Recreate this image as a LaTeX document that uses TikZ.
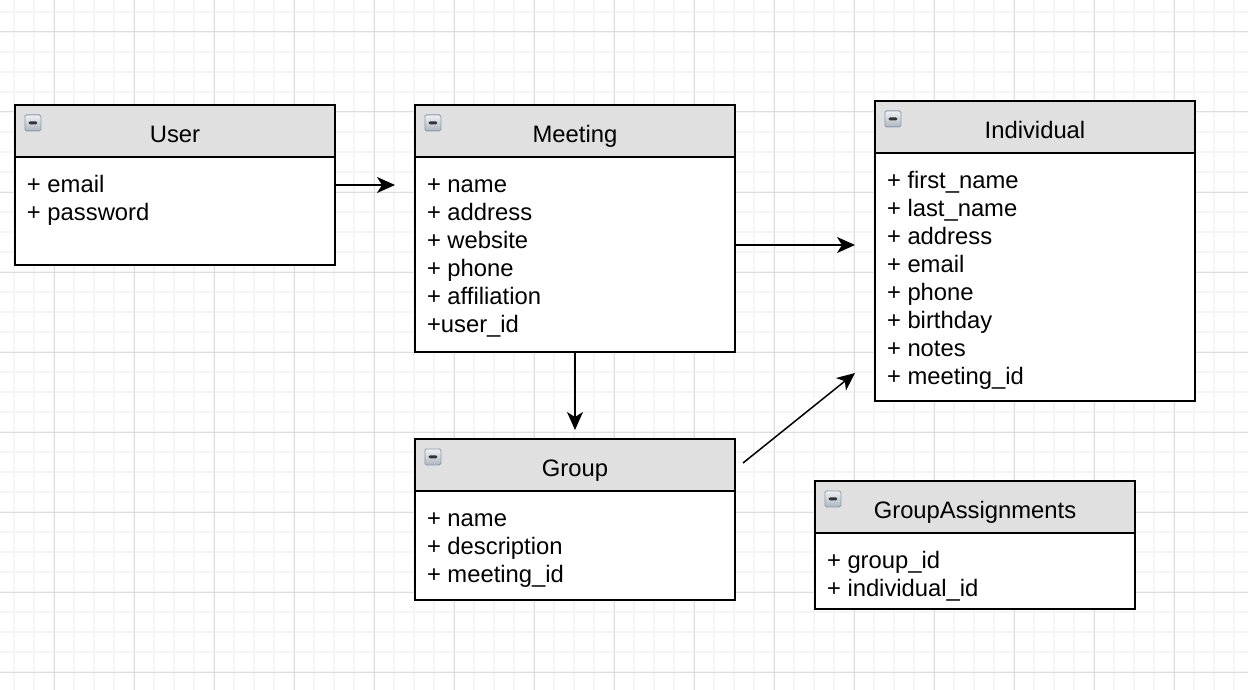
\documentclass[tikz,border=0pt]{standalone}
\usepackage{fontspec}
\setmainfont{Liberation Sans}
\usetikzlibrary{positioning,calc,arrows.meta}
\definecolor{headgray}{HTML}{E0E0E0}
\definecolor{minorgray}{HTML}{F5F5F5}
\definecolor{majorgray}{HTML}{DEDEDE}
\definecolor{iconedge}{HTML}{8C9AAA}
\definecolor{icontop}{HTML}{EEF2F6}
\definecolor{iconbottom}{HTML}{AEB6C0}
\newcommand{\fieldstrut}{\rule{0pt}{19pt}}

\begin{document}
\begin{tikzpicture}[x=1pt,y=-1pt,
  classhead/.style={draw, line width=2pt, fill=headgray, anchor=north west,
    minimum width=320pt, minimum height=52pt, inner sep=0pt, outer sep=0pt,
    text height=23pt, text depth=0pt, font=\fontsize{23.8}{28}\selectfont},
  classbody/.style={draw, line width=2pt, fill=white, anchor=north west,
    minimum width=320pt, inner sep=0pt, outer sep=0pt},
  fields/.style={anchor=north west, align=left, inner xsep=12pt, inner ysep=16pt,
    outer sep=0pt, font=\fontsize{23.8}{28}\selectfont},
  icon/.style={draw=iconedge, line width=0.8pt, anchor=north west, minimum size=16pt,
    inner sep=0pt, rounded corners=1.5pt, top color=icontop, bottom color=iconbottom,
    path picture={\fill[black!80] ($(path picture bounding box.center)+(-4.5,-1.5)$) rectangle ++(9,3);}},
  minorgrid/.style={draw=minorgray, line width=1.5pt},
  majorgrid/.style={draw=majorgray, line width=1pt},
  link/.style={-{Stealth[length=18pt,width=16pt,inset=5pt]}, line width=1.5pt}
  ]
  \useasboundingbox (0,0) rectangle (1248,690);
  \fill[white] (0,0) rectangle (1248,690);

  % background grid
  \foreach \x in {14,34,...,1248} \draw[minorgrid] (\x,0) -- (\x,690);
  \foreach \y in {12,32,...,690} \draw[minorgrid] (0,\y) -- (1248,\y);
  \foreach \x in {54,134,...,1248} \draw[majorgrid] (\x,0) -- (\x,690);
  \foreach \y in {32,112,...,690} \draw[majorgrid] (0,\y) -- (1248,\y);

  % User
  \node[classhead] (user) at (15,105) {User};
  \node[classbody, minimum height=108pt] (userbody) at (user.south west) {};
  \node[fields] (userfields) at (userbody.north west) {\fieldstrut+ email\\+ password};
  \node[icon] (usericon) at ($(user.north west)+(9.5,9.5)$) {};

  % Meeting
  \node[classhead] (meeting) at (415,105) {Meeting};
  \node[classbody, minimum height=195pt] (meetingbody) at (meeting.south west) {};
  \node[fields] (meetingfields) at (meetingbody.north west)
    {\fieldstrut+ name\\+ address\\+ website\\+ phone\\+ affiliation\\+user\_id};
  \node[icon] (meetingicon) at ($(meeting.north west)+(9.5,9.5)$) {};

  % Individual
  \node[classhead] (individual) at (875,101) {Individual};
  \node[classbody, minimum height=248pt] (individualbody) at (individual.south west) {};
  \node[fields] (individualfields) at (individualbody.north west)
    {\fieldstrut+ first\_name\\+ last\_name\\+ address\\+ email\\+ phone\\+ birthday\\+ notes\\+ meeting\_id};
  \node[icon] (individualicon) at ($(individual.north west)+(9.5,9.5)$) {};

  % Group
  \node[classhead] (group) at (415,439) {Group};
  \node[classbody, minimum height=109pt] (groupbody) at (group.south west) {};
  \node[fields] (groupfields) at (groupbody.north west)
    {\fieldstrut+ name\\+ description\\+ meeting\_id};
  \node[icon] (groupicon) at ($(group.north west)+(9.5,9.5)$) {};

  % GroupAssignments
  \node[classhead] (assign) at (815,481) {GroupAssignments};
  \node[classbody, minimum height=76pt] (assignbody) at (assign.south west) {};
  \node[fields] (assignfields) at (assignbody.north west)
    {\fieldstrut+ group\_id\\+ individual\_id};
  \node[icon] (assignicon) at ($(assign.north west)+(9.5,9.5)$) {};

  % links
  \coordinate (meetingin) at ($(meetingbody.north west)+(-20,28)$);
  \coordinate (indin) at ($(individualbody.north west)+(-20,92)$);
  \coordinate (indlow) at ($(individualbody.north west)+(-20,220)$);
  \coordinate (groupin) at ($(group.north)+(0,-9)$);
  \coordinate (groupout) at ($(group.east)+(8,-2)$);
  \draw[link] (userbody.east |- meetingin) -- (meetingin);
  \draw[link] (meetingbody.east |- indin) -- (indin);
  \draw[link] (meetingbody.south) -- (groupin);
  \draw[link] (groupout) -- (indlow);
\end{tikzpicture}
\end{document}
